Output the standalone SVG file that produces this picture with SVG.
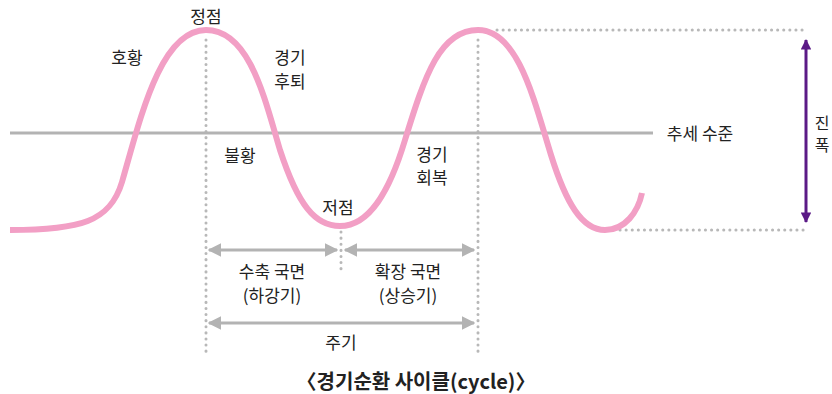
<svg xmlns="http://www.w3.org/2000/svg" width="832" height="394" viewBox="0 0 832 394">
<defs>
<style>
.t{font-family:"Noto Sans CJK KR","Noto Sans",sans-serif;font-size:17px;fill:#222;text-anchor:middle}
.dot{stroke:#b8b8b8;stroke-width:3;stroke-linecap:round;stroke-dasharray:0.1 6;fill:none}
.ga{stroke:#b3b3b3;stroke-width:3;fill:none;marker-start:url(#gs);marker-end:url(#ge)}
</style>
<marker id="ge" viewBox="0 0 10 10" refX="9" refY="5" markerWidth="4.5" markerHeight="4.5" orient="auto" markerUnits="strokeWidth"><path d="M0,0 L10,5 L0,10 Z" fill="#b3b3b3"/></marker>
<marker id="gs" viewBox="0 0 10 10" refX="1" refY="5" markerWidth="4.5" markerHeight="4.5" orient="auto" markerUnits="strokeWidth"><path d="M10,0 L0,5 L10,10 Z" fill="#b3b3b3"/></marker>
<marker id="pe" viewBox="0 0 10 10" refX="9" refY="5" markerWidth="4" markerHeight="3.5" orient="auto" markerUnits="strokeWidth"><path d="M0,0 L10,5 L0,10 Z" fill="#5b1a86"/></marker>
<marker id="ps" viewBox="0 0 10 10" refX="1" refY="5" markerWidth="4" markerHeight="3.5" orient="auto" markerUnits="strokeWidth"><path d="M10,0 L0,5 L10,10 Z" fill="#5b1a86"/></marker>
</defs>
<rect width="832" height="394" fill="#fff"/>
<g id="connectors">
<line class="dot" x1="206" y1="40" x2="206" y2="355"/>
<line class="dot" x1="478" y1="40" x2="478" y2="355"/>
<line class="dot" x1="341" y1="232" x2="341" y2="272"/>
<line class="dot" x1="497" y1="30" x2="806" y2="30"/>
<line class="dot" x1="620" y1="230" x2="806" y2="230"/>
<line x1="10" y1="133" x2="653" y2="133" stroke="#b3b3b3" stroke-width="3"/>
<line class="ga" x1="209" y1="250" x2="337" y2="250"/>
<line class="ga" x1="345" y1="250" x2="474" y2="250"/>
<line class="ga" x1="209" y1="323" x2="474" y2="323"/>
<line x1="806" y1="40" x2="806" y2="222" stroke="#5b1a86" stroke-width="3" marker-start="url(#ps)" marker-end="url(#pe)"/>
</g>
<g id="curve">
<path d="M10,230 C80,230 110,222 122,182 C140,120 160,30 206,30 C250,30 265,100 280,150 C298,205 315,226 340,226 C370,226 390,190 405,140 C425,75 440,30 478,30 C518,30 534,100 551,155 C566,203 582,230 605,230 C625,230 638,212 642,193" fill="none" stroke="#f29fc5" stroke-width="6"/>
</g>
<g id="labels">
<text class="t" x="206" y="23">정점</text>
<text class="t" x="127" y="64">호황</text>
<text class="t" x="290" y="64">경기</text>
<text class="t" x="290" y="88">후퇴</text>
<text class="t" x="240" y="162">불황</text>
<text class="t" x="338" y="214">저점</text>
<text class="t" x="432" y="161">경기</text>
<text class="t" x="432" y="184">회복</text>
<text class="t" x="700" y="140">추세 수준</text>
<text class="t" x="822" y="129" style="font-size:16px">진</text>
<text class="t" x="822" y="151" style="font-size:16px">폭</text>
<text class="t" x="272" y="278">수축 국면</text>
<text class="t" x="272" y="302">(하강기)</text>
<text class="t" x="408" y="278">확장 국면</text>
<text class="t" x="408" y="302">(상승기)</text>
<text class="t" x="341" y="349">주기</text>
<text class="t" x="416" y="389" style="font-size:20px;font-weight:bold">〈경기순환 사이클(cycle)〉</text>
</g>
</svg>
